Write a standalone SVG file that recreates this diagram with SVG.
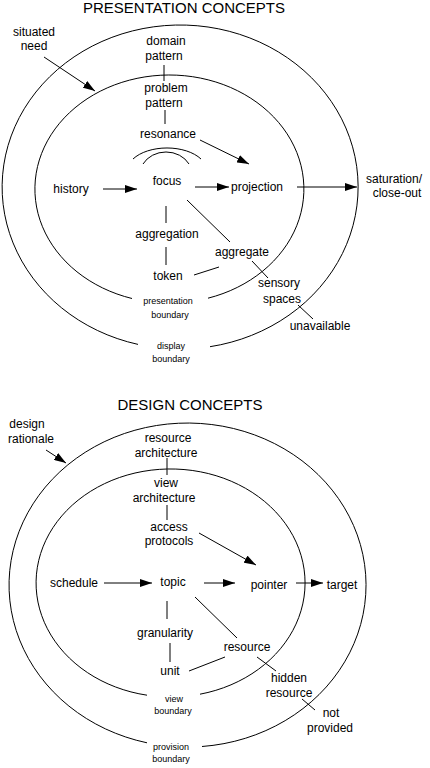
<svg xmlns="http://www.w3.org/2000/svg" width="430" height="768" viewBox="0 0 430 768">
<style>
text{font-family:"Liberation Sans",Arial,sans-serif;font-size:12px;fill:#000;text-anchor:middle}
.title{font-size:15px}
.small{font-size:9px}
.ln{fill:none;stroke:#000;stroke-width:1}
.arr{fill:none;stroke:#000;stroke-width:1;marker-end:url(#ah)}
</style>
<defs>
<marker id="ah" markerUnits="userSpaceOnUse" markerWidth="12" markerHeight="8" refX="12" refY="4" orient="auto">
<path d="M0,0 L12,4 L0,8 z" fill="#000"/>
</marker>
</defs>
<rect width="430" height="768" fill="#fff"/>

<!-- Presentation concepts -->
<g id="title-presentation"><text class="title" x="184" y="13">PRESENTATION CONCEPTS</text></g>
<g id="display-boundary">
<path class="ln" d="M138,344.4 A178,162 0 1 1 210,346.7"/>
<text class="small" x="171" y="349">display</text>
<text class="small" x="171" y="362">boundary</text>
</g>
<g id="presentation-boundary">
<path class="ln" d="M132,298.5 A134.5,114 0 1 1 208,298.2"/>
<text class="small" x="168" y="304">presentation</text>
<text class="small" x="170" y="318">boundary</text>
</g>
<g id="resonance-arcs">
<path class="ln" d="M133,159 A40,23.3 0 0 1 201,159"/>
<path class="ln" d="M143,164 A26,22.5 0 0 1 189,164"/>
</g>
<g id="situated-need"><text x="34" y="36">situated</text><text x="34" y="50">need</text></g>
<g id="domain-pattern"><text x="166" y="45">domain</text><text x="164" y="60">pattern</text></g>
<g id="problem-pattern"><text x="166" y="92">problem</text><text x="164" y="107">pattern</text></g>
<g id="resonance"><text x="168" y="138">resonance</text></g>
<g id="history"><text x="71" y="193">history</text></g>
<g id="focus"><text x="167" y="185">focus</text></g>
<g id="projection"><text x="257" y="191">projection</text></g>
<g id="saturation"><text x="394" y="183">saturation/</text><text x="397" y="197">close-out</text></g>
<g id="aggregation"><text x="167" y="238">aggregation</text></g>
<g id="aggregate"><text x="242" y="256">aggregate</text></g>
<g id="token"><text x="168" y="280">token</text></g>
<g id="sensory-spaces"><text x="279" y="287">sensory</text><text x="282" y="303">spaces</text></g>
<g id="unavailable"><text x="320" y="330">unavailable</text></g>

<!-- Design concepts -->
<g id="title-design"><text class="title" x="190" y="410">DESIGN CONCEPTS</text></g>
<g id="provision-boundary">
<path class="ln" d="M147,742.8 A178.5,162 0 1 1 202,746.5"/>
<text class="small" x="171" y="750">provision</text>
<text class="small" x="171" y="762">boundary</text>
</g>
<g id="view-boundary">
<path class="ln" d="M147,695.2 A134.5,114 0 1 1 200,694.2"/>
<text class="small" x="174" y="702">view</text>
<text class="small" x="173" y="714">boundary</text>
</g>
<g id="design-rationale"><text x="27" y="428">design</text><text x="31" y="443">rationale</text></g>
<g id="resource-architecture"><text x="168" y="442">resource</text><text x="166" y="457">architecture</text></g>
<g id="view-architecture"><text x="166" y="487">view</text><text x="164" y="502">architecture</text></g>
<g id="access-protocols"><text x="169" y="531">access</text><text x="169" y="545">protocols</text></g>
<g id="schedule"><text x="74" y="587">schedule</text></g>
<g id="topic"><text x="173" y="586">topic</text></g>
<g id="pointer"><text x="269" y="589">pointer</text></g>
<g id="target"><text x="342" y="589">target</text></g>
<g id="granularity"><text x="165" y="637">granularity</text></g>
<g id="resource"><text x="247" y="651">resource</text></g>
<g id="unit"><text x="170" y="675">unit</text></g>
<g id="hidden-resource"><text x="289" y="682">hidden</text><text x="289" y="697">resource</text></g>
<g id="not-provided"><text x="331" y="717">not</text><text x="330" y="732">provided</text></g>

<g id="connectors">
<path class="arr" d="M44,57 L95,91"/>
<path class="ln" d="M164,65 L164,81"/>
<path class="ln" d="M165,110 L165,124"/>
<path class="arr" d="M200,140 L249,164"/>
<path class="arr" d="M103,189 L137,189"/>
<path class="arr" d="M195,187 L229,187"/>
<path class="arr" d="M297,187 L357,187"/>
<path class="ln" d="M166,206 L166,223"/>
<path class="ln" d="M166,247 L166,265"/>
<path class="ln" d="M187,200 L230,242"/>
<path class="ln" d="M194,275 L219,267"/>
<path class="ln" d="M252,261 L268,278"/>
<path class="ln" d="M298,305 L313,319"/>

<path class="arr" d="M46,450 L66,463"/>
<path class="ln" d="M167,458 L167,475"/>
<path class="ln" d="M167,505 L167,520"/>
<path class="arr" d="M199,533 L256,565"/>
<path class="arr" d="M104,583 L152,583"/>
<path class="arr" d="M204,583 L235,583"/>
<path class="arr" d="M296,583 L323,583"/>
<path class="ln" d="M167,601 L167,619"/>
<path class="ln" d="M170,643 L170,662"/>
<path class="ln" d="M195,597 L237,638"/>
<path class="ln" d="M189,671 L225,657"/>
<path class="ln" d="M257,657 L276,671"/>
<path class="ln" d="M302,699 L315,710"/>
</g>
</svg>
